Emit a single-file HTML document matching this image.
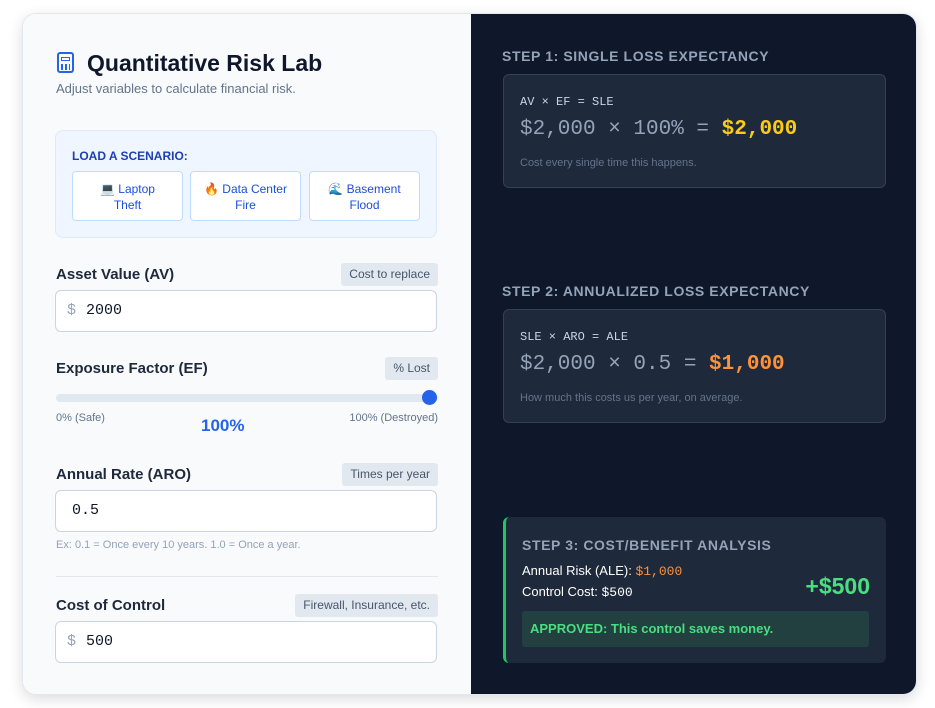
<!DOCTYPE html>
<html><head><meta charset="utf-8"><style>
*{box-sizing:border-box;margin:0;padding:0}
body{width:935px;height:708px;background:#fff;font-family:"Liberation Sans","DejaVu Sans",sans-serif;position:relative;overflow:hidden}
.card{position:absolute;left:22px;top:13px;width:895px;height:682px;border-radius:14px;overflow:hidden;box-shadow:0 4px 14px rgba(0,0,0,.14);border:1px solid #e2e8f0}
.left{position:absolute;left:0;top:0;width:448px;height:100%;background:#f8fafc}
.right{position:absolute;left:448px;top:0;width:447px;height:100%;background:#0f172a}
.a{position:absolute}
h1{font-size:23px;font-weight:bold;color:#0f172a}
.sub{font-size:13px;color:#64748b}
.scen{left:32px;top:116px;width:382px;height:108px;background:#eff6ff;border:1px solid #dbeafe;border-radius:8px}
.btn{position:absolute;top:40px;width:111px;height:50px;background:#fff;border:1px solid #bfdbfe;border-radius:4px;color:#1d4ed8;font-size:12px;text-align:center;line-height:16px;padding-top:9px}
.lbl{font-size:15px;font-weight:bold;color:#1e293b}
.tag{background:#e2e8f0;color:#475569;font-size:12px;border-radius:3px;height:23px;line-height:23px;padding:0 8px;right:33px}
.inp{left:32px;width:382px;height:42px;background:#fff;border:1px solid #cbd5e1;border-radius:6px;font-family:"Liberation Mono",monospace;font-size:15px;color:#0f172a;line-height:40px;padding-left:11px}
.inp span{color:#94a3b8;margin-right:10px}
.box{left:32px;width:383px;background:#1e293b;border:1px solid #334155;border-radius:6px}
.st{font-size:14px;font-weight:bold;color:#94a3b8;letter-spacing:.6px}
.mono{font-family:"Liberation Mono",monospace}
</style></head><body>
<div class="card">
<div class="left">
<div class="a" style="left:34px;top:38px;width:17px;height:21px;border:2px solid #2563eb;border-radius:3px"><div style="margin:3px 2px;height:4px;border:1px solid #2563eb"></div><div style="margin:0 2px;height:6px;background:repeating-linear-gradient(90deg,#2563eb 0 2px,transparent 2px 4px)"></div></div>
<h1 class="a" style="left:64px;top:36px">Quantitative Risk Lab</h1>
<div class="a sub" style="left:33px;top:67px">Adjust variables to calculate financial risk.</div>
<div class="a scen">
<div class="a" style="left:16px;top:18px;font-size:12px;font-weight:bold;color:#1e40af">LOAD A SCENARIO:</div>
<div class="btn" style="left:16px">💻 Laptop<br>Theft</div>
<div class="btn" style="left:134px">🔥 Data Center<br>Fire</div>
<div class="btn" style="left:253px">🌊 Basement<br>Flood</div>
</div>
<div class="a lbl" style="left:33px;top:252px">Asset Value (AV)</div>
<div class="a tag" style="top:249px">Cost to replace</div>
<div class="a inp" style="top:276px"><span>$</span>2000</div>
<div class="a lbl" style="left:33px;top:346px">Exposure Factor (EF)</div>
<div class="a tag" style="top:343px">% Lost</div>
<div class="a" style="left:33px;top:380px;width:382px;height:8px;background:#e2e8f0;border-radius:4px"></div>
<div class="a" style="left:399px;top:376px;width:15px;height:15px;background:#2563eb;border-radius:50%"></div>
<div class="a" style="left:33px;top:398px;font-size:11px;color:#64748b">0% (Safe)</div>
<div class="a" style="right:33px;top:398px;font-size:11px;color:#64748b">100% (Destroyed)</div>
<div class="a" style="left:178px;top:402px;font-size:17px;font-weight:bold;color:#2563eb">100%</div>
<div class="a lbl" style="left:33px;top:452px">Annual Rate (ARO)</div>
<div class="a tag" style="top:449px">Times per year</div>
<div class="a inp" style="top:476px;padding-left:16px">0.5</div>
<div class="a" style="left:33px;top:525px;font-size:11px;color:#94a3b8">Ex: 0.1 = Once every 10 years. 1.0 = Once a year.</div>
<div class="a" style="left:33px;top:562px;width:382px;height:1px;background:#e2e8f0"></div>
<div class="a lbl" style="left:33px;top:583px">Cost of Control</div>
<div class="a tag" style="top:580px">Firewall, Insurance, etc.</div>
<div class="a inp" style="top:607px"><span>$</span>500</div>
</div>
<div class="right">
<div class="a st" style="left:31px;top:34px">STEP 1: SINGLE LOSS EXPECTANCY</div>
<div class="a box" style="top:60px;height:114px">
<div class="a mono" style="left:16px;top:20px;font-size:12px;color:#cbd5e1">AV × EF = SLE</div>
<div class="a mono" style="left:16px;top:43px;font-size:21px;color:#94a3b8">$2,000 × 100% = <b style="color:#facc15">$2,000</b></div>
<div class="a" style="left:16px;top:82px;font-size:11px;color:#64748b">Cost every single time this happens.</div>
</div>
<div class="a st" style="left:31px;top:269px">STEP 2: ANNUALIZED LOSS EXPECTANCY</div>
<div class="a box" style="top:295px;height:114px">
<div class="a mono" style="left:16px;top:20px;font-size:12px;color:#cbd5e1">SLE × ARO = ALE</div>
<div class="a mono" style="left:16px;top:43px;font-size:21px;color:#94a3b8">$2,000 × 0.5 = <b style="color:#fb923c">$1,000</b></div>
<div class="a" style="left:16px;top:82px;font-size:11px;color:#64748b">How much this costs us per year, on average.</div>
</div>
<div class="a box" style="top:503px;height:146px;border:none;border-left:3px solid #22c55e">
<div class="a st" style="left:16px;top:20px">STEP 3: COST/BENEFIT ANALYSIS</div>
<div class="a" style="left:16px;top:46px;font-size:13px;color:#fff">Annual Risk (ALE): <span class="mono" style="color:#fb923c">$1,000</span></div>
<div class="a" style="left:16px;top:67px;font-size:13px;color:#fff">Control Cost: <span class="mono">$500</span></div>
<div class="a" style="right:16px;top:56px;font-size:23px;font-weight:bold;color:#4ade80">+$500</div>
<div class="a" style="left:16px;top:94px;width:347px;height:36px;background:#22403f;border-radius:3px;color:#4ade80;font-size:13px;font-weight:bold;line-height:36px;padding-left:8px">APPROVED: This control saves money.</div>
</div>
</div>
</div>
<div class="a" style="left:918px;top:340px;font-size:10px;color:#475569">
